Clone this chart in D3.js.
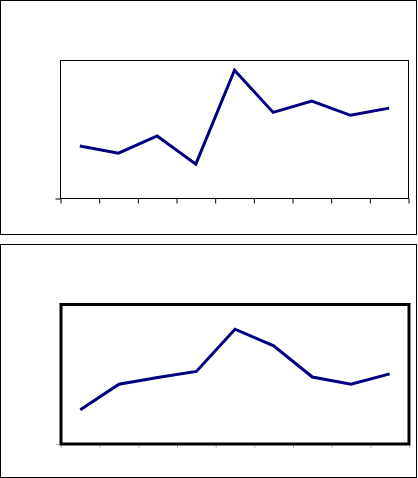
<!DOCTYPE html>
<html>
<head>
<meta charset="utf-8">
<script src="https://cdn.jsdelivr.net/npm/d3@7"></script>
<style>
  html, body { margin: 0; padding: 0; background: #fff; }
  svg { display: block; }
</style>
</head>
<body>
<svg id="chart" width="418" height="478"></svg>
<script>
// Data (no labels visible in the reference; 9 categories, values on a 0–100 scale)
const categories = ["1", "2", "3", "4", "5", "6", "7", "8", "9"];
const seriesTop = [38.1, 32.8, 45.3, 24.9, 93.0, 62.4, 70.6, 60.3, 65.5];
const seriesBottom = [24.6, 42.9, 47.7, 52.0, 82.3, 70.4, 48.0, 42.9, 50.3];
const yDomain = [0, 100];

const svg = d3.select("#chart");

function panel(cfg) {
  const g = svg.append("g");
  // outer chart border
  g.append("rect")
    .attr("x", cfg.outer.x + 0.5).attr("y", cfg.outer.y + 0.5)
    .attr("width", cfg.outer.w).attr("height", cfg.outer.h)
    .attr("fill", "#fff").attr("stroke", "#000").attr("stroke-width", 1);

  const p = cfg.plot;
  const x = d3.scaleBand().domain(categories).range([p.x0, p.x1]).padding(0);
  const xEdges = d3.scaleLinear().domain([0, categories.length]).range([p.x0, p.x1]);
  const y = d3.scaleLinear().domain(yDomain).range([p.y1, p.y0]);

  // x ticks at category boundaries
  const xAxis = d3.axisBottom(xEdges)
    .tickValues(d3.range(0, categories.length + 1))
    .tickSize(cfg.tickLen).tickSizeOuter(0).tickFormat("");
  const gx = g.append("g").attr("transform", `translate(0,${p.y1})`).call(xAxis);
  gx.select(".domain").remove();
  gx.selectAll(".tick line").attr("stroke", cfg.tickColor).attr("stroke-width", 1);

  // y tick at bottom (outside, to the left)
  const yAxis = d3.axisLeft(y).tickValues([yDomain[0]]).tickSize(5).tickSizeOuter(0).tickFormat("");
  const gy = g.append("g").attr("transform", `translate(${p.x0},0)`).call(yAxis);
  gy.select(".domain").remove();
  gy.selectAll(".tick line").attr("stroke", cfg.tickColor).attr("stroke-width", 1);

  // plot area frame
  g.append("rect")
    .attr("x", p.x0).attr("y", p.y0)
    .attr("width", p.x1 - p.x0).attr("height", p.y1 - p.y0)
    .attr("fill", "none").attr("stroke", "#000").attr("stroke-width", cfg.frameW);

  // line
  const line = d3.line()
    .x((d, i) => x(categories[i]) + x.bandwidth() / 2)
    .y(d => y(d));
  g.append("path")
    .datum(cfg.values)
    .attr("d", line)
    .attr("fill", "none")
    .attr("stroke", "#000080")
    .attr("stroke-width", 3)
    .attr("stroke-linejoin", "miter");
}

panel({
  outer: { x: 0, y: 0, w: 416, h: 234 },
  plot: { x0: 60.5, x1: 408.5, y0: 60.5, y1: 198.5 },
  tickLen: 5, tickColor: "#000", frameW: 1,
  values: seriesTop
});

panel({
  outer: { x: 0, y: 244, w: 416, h: 233 },
  plot: { x0: 61, x1: 409, y0: 304.5, y1: 444 },
  tickLen: 4, tickColor: "#bbb", frameW: 3,
  values: seriesBottom
});
</script>
</body>
</html>
